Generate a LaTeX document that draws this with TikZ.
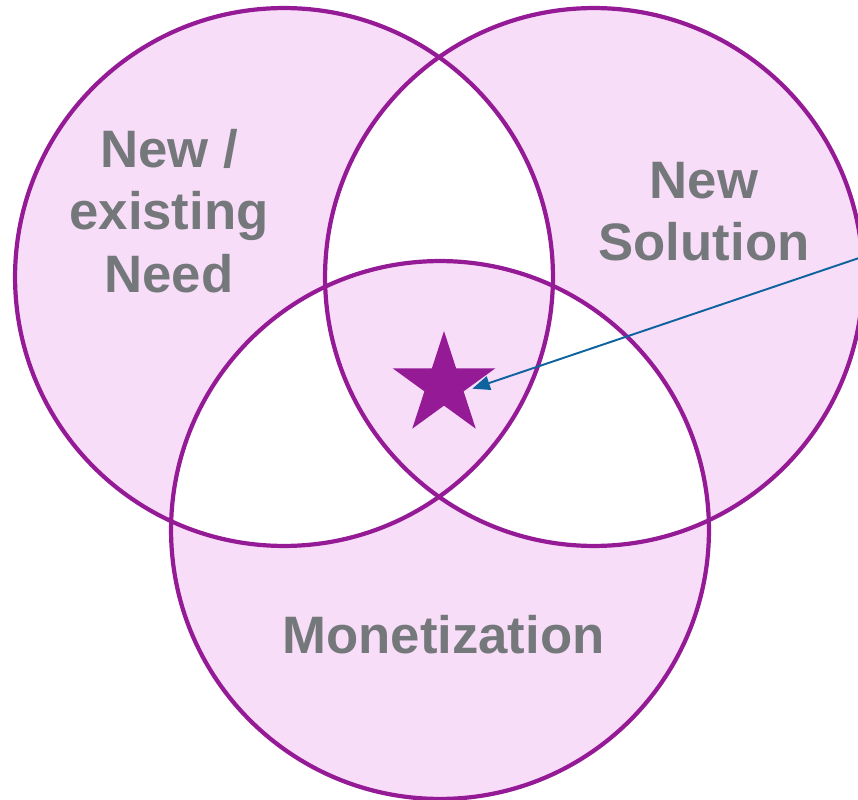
\documentclass[tikz,border=0pt]{standalone}
\usepackage{fontspec}
\setmainfont{Liberation Sans}
\usetikzlibrary{arrows.meta,shapes.geometric}
\definecolor{vennpink}{RGB}{248,221,248}
\definecolor{vennpurple}{RGB}{149,27,150}
\definecolor{venngray}{RGB}{117,120,123}
\definecolor{pointerblue}{RGB}{14,99,158}
\def\ringr{5.38cm}

\begin{document}
\begin{tikzpicture}[x=0.02cm, y=-0.02cm,
	ring/.style={draw=vennpurple, line width=2.4pt},
	venntext/.style={text=venngray, font=\bfseries\fontsize{30}{35.7}\selectfont, align=center, inner sep=0pt},
	pointer/.style={draw=pointerblue, line width=1.1pt, -{Triangle[length=10pt, width=8pt]}, shorten >=5pt}]
			%%%%% START %%%%%
			
			\useasboundingbox (0, 0) rectangle (858, 800);
			
			\coordinate (needc) at (284, 277);
			\coordinate (solutionc) at (594, 277);
			\coordinate (moneyc) at (440, 530);
			
			\fill[vennpink, even odd rule] (needc) circle (\ringr) (solutionc) circle (\ringr) (moneyc) circle (\ringr);
			
			\draw[ring] (needc) circle (\ringr);
			\draw[ring] (solutionc) circle (\ringr);
			\draw[ring] (moneyc) circle (\ringr);
			
			\node[venntext] (need) at (169, 211) {New /\\existing\\Need};
			\node[venntext] (solution) at (704, 211.5) {New\\Solution};
			\node[venntext, anchor=base] (money) at (443.5, 653) {Monetization};
			
			\node[star, star points=5, star point ratio=2.618, minimum size=2.16cm, inner sep=0pt, fill=vennpurple] (goal) at (444, 385) {};
			
			\coordinate (callout) at (862, 257);
			\draw[pointer] (callout) -- (goal.inner point 4);
			
			%%%%% END %%%%%
		\end{tikzpicture}
\end{document}
